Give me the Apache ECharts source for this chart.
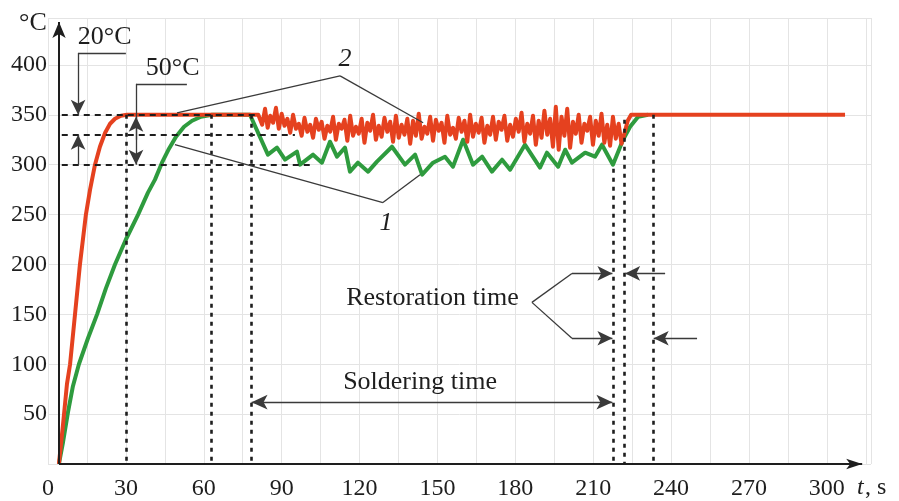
<!DOCTYPE html>
<html>
<head>
<meta charset="utf-8">
<script src="https://cdn.jsdelivr.net/npm/echarts@6/dist/echarts.min.js"></script>
<style>
  html, body { margin: 0; padding: 0; background: #fff; }
  #chart { width: 899px; height: 501px; }
</style>
</head>
<body>
<div id="chart"></div>
<script>
// tick labels
var xTicks = [0, 30, 60, 90, 120, 150, 180, 210, 240, 270, 300];
var yTicks = [50, 100, 150, 200, 250, 300, 350, 400];

// curve 2 (red): [t, s ; T, °C]
var redRise = [[4.2, 0], [5.8, 40], [7.3, 80], [8.5, 100], [10.4, 150], [12.3, 200], [14.6, 250],
  [16.2, 275], [18.1, 300], [20.0, 318], [22.0, 332], [23.9, 341], [25.8, 346], [28.1, 349], [30.4, 350]];
var redNoise = [[81.0, 350], [82.5, 340], [83.6, 356], [84.6, 337], [85.6, 349], [86.7, 342], [87.8, 357],
  [88.9, 336], [90.0, 351], [91.1, 339], [92.2, 346], [93.3, 332], [94.4, 350], [95.5, 336], [96.6, 341],
  [97.7, 329], [98.8, 347], [99.9, 333], [101.0, 340], [102.1, 327], [103.2, 346], [104.3, 335], [105.4, 343],
  [106.5, 326], [107.6, 339], [108.7, 333], [109.8, 348], [110.9, 325], [112.0, 341], [113.1, 336], [114.2, 345],
  [115.3, 324], [116.4, 349], [117.5, 329], [118.6, 338], [119.7, 331], [120.8, 346], [121.9, 322], [123.0, 342],
  [124.1, 334], [125.2, 350], [126.3, 325], [127.4, 339], [128.5, 328], [129.6, 347], [130.7, 333], [131.8, 343],
  [132.9, 323], [134.0, 349], [135.1, 327], [136.2, 340], [137.3, 330], [138.4, 346], [139.5, 321], [140.6, 344],
  [141.7, 329], [142.8, 351], [143.9, 326], [145.0, 338], [146.1, 331], [147.2, 348], [148.3, 324], [149.4, 345],
  [150.5, 334], [151.6, 342], [152.7, 322], [153.8, 349], [154.9, 330], [156.0, 337], [157.1, 326], [158.2, 347],
  [159.3, 333], [160.4, 344], [161.5, 323], [162.6, 350], [163.7, 328], [164.8, 341], [165.9, 332], [167.0, 347],
  [168.1, 322], [169.2, 339], [170.3, 330], [171.4, 348], [172.5, 325], [173.6, 343], [174.7, 335], [175.8, 349],
  [176.9, 324], [178.0, 340], [179.1, 328], [180.2, 346], [181.3, 333], [182.4, 352], [183.5, 323], [184.6, 341],
  [185.7, 331], [186.8, 349], [187.9, 320], [189.0, 344], [190.1, 327], [191.2, 354], [192.3, 330], [193.4, 346],
  [194.5, 318], [195.6, 358], [196.7, 315], [197.8, 348], [198.9, 329], [200.0, 356], [201.1, 317], [202.2, 343],
  [203.3, 331], [204.4, 350], [205.5, 322], [206.6, 341], [207.7, 334], [208.8, 348], [209.9, 320], [211.0, 344],
  [212.1, 329], [213.2, 351], [214.3, 322], [215.4, 340], [216.5, 319], [217.6, 348], [218.7, 326], [219.8, 341],
  [220.9, 321], [221.6, 327]];
var redRecover = [[222.4, 335], [223.3, 344], [224.6, 350], [307.0, 350]];

// curve 1 (green)
var greenRise = [[4.2, 0], [5.8, 22], [7.7, 52], [9.6, 78], [11.9, 100], [15.4, 126], [18.9, 150], [22.3, 176],
  [25.8, 200], [30.0, 225], [34.7, 250], [38.5, 272], [41.2, 285], [43.9, 302], [46.6, 316], [49.3, 328],
  [52.4, 338], [55.5, 344], [58.9, 348], [63.2, 350]];
var greenNoise = [[77.8, 350], [84.7, 310], [88.2, 317], [91.3, 305], [95.9, 313], [97.1, 300], [102.1, 310],
  [105.5, 302], [108.6, 323], [111.3, 308], [114.4, 317], [116.3, 293], [119.4, 302], [123.3, 293], [126.7, 303],
  [132.5, 318], [137.5, 300], [141.4, 310], [144.1, 290], [148.3, 302], [152.9, 308], [156.0, 298], [159.9, 325],
  [163.7, 300], [167.2, 308], [171.0, 293], [174.9, 305], [178.0, 295], [183.7, 320], [189.5, 297], [192.2, 312],
  [196.5, 298], [199.2, 315], [201.8, 302], [206.9, 312], [210.7, 308], [213.4, 320], [217.6, 300]];
var greenRecover = [[221.5, 325], [224.2, 338], [227.3, 348], [231.1, 350]];

var SERIF = 'Liberation Serif';
var INK = '#1e1e1e';
var THIN = { color: '#3a3a3a', width: 1.3, type: 'solid' };
var DASH = { color: INK, width: 2, type: [6, 5] };
var DOT = { color: INK, width: 2.6, type: [4, 5] };
var AXIS = { color: INK, width: 2, type: 'solid' };

function seg(a, b, style, symA, symB, size) {
  var sz = size || [11, 15];
  return [
    { coord: a, symbol: symA || 'none', symbolSize: sz, lineStyle: style },
    { coord: b, symbol: symB || 'none', symbolSize: sz }
  ];
}
function txt(label, at, size, italic) {
  return {
    coord: at, symbol: 'rect', symbolSize: 1, itemStyle: { color: 'rgba(0,0,0,0)' },
    label: {
      show: true, position: 'inside', formatter: label, color: INK,
      fontFamily: SERIF, fontSize: size, fontStyle: italic ? 'italic' : 'normal'
    }
  };
}

var annoLines = [
  // axes
  seg([4.24, 0], [313.6, 0], AXIS, 'none', 'arrow', [8, 16]),
  seg([4.24, 0], [4.24, 443], AXIS, 'none', 'arrow', [10, 16]),
  // reference levels
  seg([5.3, 350], [81, 350], DASH),
  seg([5.3, 330], [95.1, 330], DASH),
  seg([5.3, 300], [100.9, 300], DASH),
  // time markers
  seg([30.0, 350], [30.0, 0], DOT),
  seg([62.8, 350], [62.8, 0], DOT),
  seg([78.2, 350], [78.2, 0], DOT),
  seg([217.6, 296], [217.6, 0], DOT),
  seg([221.9, 345], [221.9, 0], DOT),
  seg([233.0, 350], [233.0, 0], DOT),
  // 20 °C
  seg([30.0, 412], [11.6, 412], THIN),
  seg([11.6, 412], [11.6, 350], THIN, 'none', 'arrow'),
  seg([11.6, 300], [11.6, 330], THIN, 'none', 'arrow'),
  // 50 °C
  seg([53.5, 381], [33.9, 381], THIN),
  seg([33.9, 381], [33.9, 300], THIN, 'none', 'arrow'),
  seg([33.9, 325], [33.9, 348], THIN, 'none', 'arrow'),
  // leader 2
  seg([49.7, 352], [112.5, 389], THIN),
  seg([112.5, 389], [144.5, 342], THIN),
  // leader 1
  seg([48.9, 320], [129.0, 262], THIN),
  seg([129.0, 262], [143.3, 290], THIN),
  // soldering time
  seg([78.4, 62], [217.4, 62], THIN, 'arrow', 'arrow', [11, 16]),
  // restoration time
  seg([186.4, 162], [201.8, 191], THIN),
  seg([201.8, 191], [217.4, 191], THIN, 'none', 'arrow'),
  seg([186.4, 162], [201.8, 126], THIN),
  seg([201.8, 126], [217.4, 126], THIN, 'none', 'arrow'),
  seg([237.7, 191], [222.3, 191], THIN, 'none', 'arrow'),
  seg([250.0, 126], [233.3, 126], THIN, 'none', 'arrow')
];

var annoTexts = [
  txt('20°C', [21.8, 428], 26),
  txt('50°C', [48.0, 397], 26),
  txt('2', [114.4, 406], 26, true),
  txt('1', [130.2, 241], 26, true),
  txt('Restoration time', [148.1, 166], 26),
  txt('Soldering time', [143.3, 82], 26)
];

var chart = echarts.init(document.getElementById('chart'), null, { renderer: 'canvas' });
var gridStyle = { color: '#e4e4e4', width: 1 };

chart.setOption({
  animation: false,
  backgroundColor: '#fff',
  grid: { left: 48, right: 28, top: 18, bottom: 36 },
  xAxis: {
    type: 'value', min: 0, max: 317, interval: 30,
    axisLine: { show: false }, axisTick: { show: false },
    minorTick: { show: true, splitNumber: 2, length: 0 },
    minorSplitLine: { show: true, lineStyle: gridStyle },
    splitLine: { show: true, lineStyle: gridStyle },
    axisLabel: {
      margin: 13, color: INK, fontFamily: SERIF, fontSize: 24, showMaxLabel: false,
      formatter: function (v) { return xTicks.indexOf(v) >= 0 ? String(v) : ''; }
    }
  },
  yAxis: {
    type: 'value', min: 0, max: 447, interval: 50,
    axisLine: { show: false }, axisTick: { show: false },
    splitLine: { show: true, lineStyle: gridStyle },
    axisLabel: {
      margin: 1, color: INK, fontFamily: SERIF, fontSize: 24, showMaxLabel: false,
      formatter: function (v) { return yTicks.indexOf(v) >= 0 ? String(v) : ''; }
    }
  },
  graphic: [
    { type: 'text', left: 19, top: 10, style: { text: '°C', font: '26px "Liberation Serif"', fill: INK } },
    { type: 'text', left: 857, top: 476, style: { text: 't', font: 'italic 24px "Liberation Serif"', fill: INK } },
    { type: 'text', left: 865, top: 476, style: { text: ', s', font: '24px "Liberation Serif"', fill: INK } }
  ],
  series: [
    {
      name: 'annotations', type: 'line', data: [], z: 1, silent: true, clip: false,
      markLine: {
        silent: true, animation: false, label: { show: false },
        symbol: ['none', 'none'], precision: 3,
        emphasis: { disabled: true },
        data: annoLines
      },
      markPoint: { silent: true, animation: false, data: annoTexts }
    },
    {
      name: '1', type: 'line', z: 3, symbol: 'none', silent: true,
      lineStyle: { color: '#2e9b3e', width: 4, join: 'round' },
      data: greenRise.concat(greenNoise, greenRecover)
    },
    {
      name: '2', type: 'line', z: 4, symbol: 'none', silent: true,
      lineStyle: { color: '#e5411f', width: 4, join: 'round' },
      data: redRise.concat(redNoise, redRecover)
    }
  ]
});
</script>
</body>
</html>
